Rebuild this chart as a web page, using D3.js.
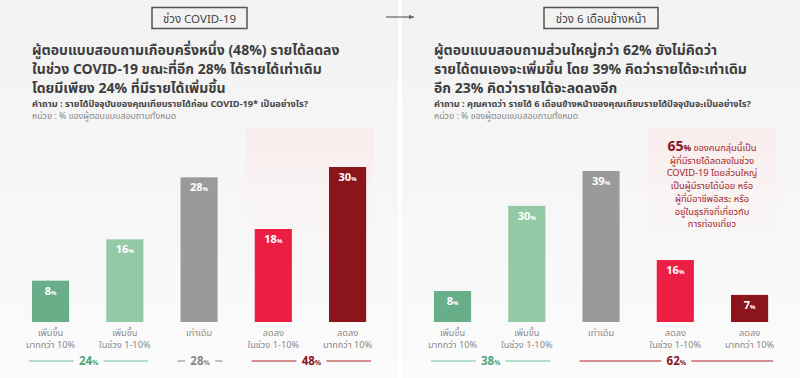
<!DOCTYPE html>
<html>
<head>
  <meta charset="utf-8">
  <title></title>
  <style>
    body { margin: 0; background: #fff; }
    text { font-family: "Noto Sans Thai", "Noto Sans", "DejaVu Sans", sans-serif; }
  </style>
</head>
<body>
  <svg width="800" height="378"></svg>

  <script src="https://d3js.org/d3.v7.min.js"></script>
  <script>

  // data
  var categories = [["เพิ่มขึ้น", "มากกว่า 10%"], ["เพิ่มขึ้น", "ในช่วง 1-10%"], ["เท่าเดิม"], ["ลดลง", "ในช่วง 1-10%"], ["ลดลง", "มากกว่า 10%"]];
  var duringValues = [8, 16, 28, 18, 30];
  var nextValues = [8, 30, 39, 16, 7];
  var barColors = ["#67ae89", "#94c9a6", "#9a9a9a", "#ec1e44", "#8c151b"];

  var duringGroups = [
    { first: 0, last: 1, value: 24, line: "#6fbf9c", text: "#4fa57a" },
    { first: 2, last: 2, value: 28, line: "#999", text: "#888" },
    { first: 3, last: 4, value: 48, line: "#b0252c", text: "#8c151b" }
  ];
  var nextGroups = [
    { first: 0, last: 1, value: 38, line: "#6fbf9c", text: "#4fa57a" },
    { first: 2, last: 4, value: 62, line: "#b0252c", text: "#8c151b" }
  ];

  var duringTitle = ["ผู้ตอบแบบสอบถามเกือบครึ่งหนึ่ง (48%) รายได้ลดลง", "ในช่วง COVID-19 ขณะที่อีก 28% ได้รายได้เท่าเดิม", "โดยมีเพียง 24% ที่มีรายได้เพิ่มขึ้น"];
  var nextTitle = ["ผู้ตอบแบบสอบถามส่วนใหญ่กว่า 62% ยังไม่คิดว่า", "รายได้ตนเองจะเพิ่มขึ้น โดย 39% คิดว่ารายได้จะเท่าเดิม", "อีก 23% คิดว่ารายได้จะลดลงอีก"];
  var duringQuestion = "คำถาม : รายได้ปัจจุบันของคุณเทียบรายได้ก่อน COVID-19* เป็นอย่างไร?";
  var nextQuestion = "คำถาม : คุณคาดว่า รายได้ 6 เดือนข้างหน้าของคุณเทียบรายได้ปัจจุบันจะเป็นอย่างไร?";
  var unitText = "หน่วย : % ของผู้ตอบแบบสอบถามทั้งหมด";
  var note = ["ของคนกลุ่มนี้เป็น", "ผู้ที่มีรายได้ลดลงในช่วง", "COVID-19 โดยส่วนใหญ่", "เป็นผู้มีรายได้น้อย หรือ", "ผู้ที่มีอาชีพอิสระ หรือ", "อยู่ในธุรกิจที่เกี่ยวกับ", "การท่องเที่ยว"];
  var noteValue = 65;

  var svg = d3.select("svg");
  var defs = svg.append("defs");

  var bg = defs.append("linearGradient").attr("id", "bg").attr("x1", 0).attr("y1", 0).attr("x2", 0).attr("y2", 1);
  bg.append("stop").attr("offset", "0%").attr("stop-color", "#f2f2f2");
  bg.append("stop").attr("offset", "100%").attr("stop-color", "#fbfbfb");

  var pink = defs.append("linearGradient").attr("id", "pink").attr("x1", 0).attr("y1", 0).attr("x2", 0).attr("y2", 1);
  pink.append("stop").attr("offset", "0%").attr("stop-color", "#f9ecec");
  pink.append("stop").attr("offset", "100%").attr("stop-color", "#fafafa").attr("stop-opacity", 0);

  defs.append("marker").attr("id", "arrow").attr("viewBox", "0 0 10 10")
      .attr("refX", 9).attr("refY", 5).attr("markerWidth", 5).attr("markerHeight", 5)
      .attr("orient", "auto")
    .append("path").attr("d", "M0,1L9,5L0,9z").attr("fill", "#666");

  svg.append("rect").attr("x", 0).attr("y", 0).attr("width", 398).attr("height", 378).attr("fill", "url(#bg)");
  svg.append("rect").attr("x", 402).attr("y", 0).attr("width", 398).attr("height", 378).attr("fill", "url(#bg)");

  svg.append("line").attr("x1", 386).attr("x2", 414).attr("y1", 17).attr("y2", 17)
      .attr("stroke", "#666").attr("stroke-width", 1.2).attr("marker-end", "url(#arrow)");

  drawPanel({
    header: "ช่วง COVID-19", headerX: 152, headerW: 95,
    title: duringTitle, question: duringQuestion, tx: 32,
    values: duringValues, groups: duringGroups,
    xRange: [13.4, 384.7], yMax: 30, yTop: 167,
    highlight: [246, 374]
  });

  drawPanel({
    header: "ช่วง 6 เดือนข้างหน้า", headerX: 544, headerW: 114,
    title: nextTitle, question: nextQuestion, tx: 434,
    values: nextValues, groups: nextGroups,
    xRange: [415.4, 786.7], yMax: 39, yTop: 171,
    highlight: [648, 777]
  });

  // note in the right panel
  var noteG = svg.append("g").attr("fill", "#a3242b").attr("text-anchor", "middle");
  note.forEach(function(d, i) {
    var t = noteG.append("text").attr("x", 712).attr("y", 151 + i * 12.7).attr("font-size", 9.3);
    if (i === 0) {
      t.append("tspan").attr("font-size", 14).attr("font-weight", "bold").attr("fill", "#8c151b").text(noteValue);
      t.append("tspan").attr("font-size", 8.5).attr("font-weight", "bold").attr("fill", "#8c151b").text("% ");
    }
    t.append("tspan").text(d);
  });

  function drawPanel(p) {
    var x = d3.scaleBand().domain(d3.range(p.values.length)).range(p.xRange)
        .paddingInner(0.5).paddingOuter(0.25);
    var y = d3.scaleLinear().domain([0, p.yMax]).range([322, p.yTop]);
    var g = svg.append("g");

    g.append("rect").attr("x", p.highlight[0]).attr("y", 128)
        .attr("width", p.highlight[1] - p.highlight[0]).attr("height", 190)
        .attr("fill", "url(#pink)");

    g.append("rect").attr("x", p.headerX).attr("y", 7.5).attr("width", p.headerW).attr("height", 21)
        .attr("fill", "none").attr("stroke", "#555").attr("stroke-width", 1.5);
    g.append("text").attr("x", p.headerX + p.headerW / 2).attr("y", 22.5).attr("text-anchor", "middle")
        .attr("font-size", 11.5).attr("fill", "#444").text(p.header);

    g.selectAll(".title").data(p.title).join("text")
        .attr("x", p.tx).attr("y", function(d, i) { return 55 + i * 19; })
        .attr("font-size", 14).attr("font-weight", "bold").attr("fill", "#3d3d3d")
        .text(function(d) { return d; });

    g.append("text").attr("x", p.tx).attr("y", 107).attr("font-size", 9.2).attr("font-weight", "bold")
        .attr("fill", "#444").text(p.question);
    g.append("text").attr("x", p.tx).attr("y", 119).attr("font-size", 8.8)
        .attr("fill", "#888").text(unitText);

    g.selectAll(".bar").data(p.values).join("rect")
        .attr("x", function(d, i) { return x(i); })
        .attr("y", function(d) { return y(d); })
        .attr("width", x.bandwidth())
        .attr("height", function(d) { return y(0) - y(d); })
        .attr("fill", function(d, i) { return barColors[i]; });

    var lbl = g.selectAll(".val").data(p.values).join("text")
        .attr("x", function(d, i) { return x(i) + x.bandwidth() / 2; })
        .attr("y", function(d) { return y(d) + 14; })
        .attr("text-anchor", "middle").attr("fill", "#fff").attr("font-weight", "bold");
    lbl.append("tspan").attr("font-size", 11).text(function(d) { return d; });
    lbl.append("tspan").attr("font-size", 6).text("%");

    categories.forEach(function(c, i) {
      var t = g.append("text").attr("text-anchor", "middle").attr("font-size", 9.2).attr("fill", "#8a8a8a");
      c.forEach(function(line, j) {
        t.append("tspan").attr("x", x(i) + x.bandwidth() / 2).attr("y", 336 + j * 11.5).text(line);
      });
    });

    p.groups.forEach(function(gr) {
      var x0 = x(gr.first) - 3, x1 = x(gr.last) + x.bandwidth() + 5, mid = (x0 + x1) / 2;
      g.append("line").attr("x1", x0).attr("x2", mid - 15).attr("y1", 361).attr("y2", 361)
          .attr("stroke", gr.line).attr("stroke-width", 1.2);
      g.append("line").attr("x1", mid + 15).attr("x2", x1).attr("y1", 361).attr("y2", 361)
          .attr("stroke", gr.line).attr("stroke-width", 1.2);
      var t = g.append("text").attr("x", mid).attr("y", 365).attr("text-anchor", "middle")
          .attr("fill", gr.text).attr("font-weight", "bold");
      t.append("tspan").attr("font-size", 11.5).text(gr.value);
      t.append("tspan").attr("font-size", 7).text("%");
    });
  }

  </script>
</body>
</html>
